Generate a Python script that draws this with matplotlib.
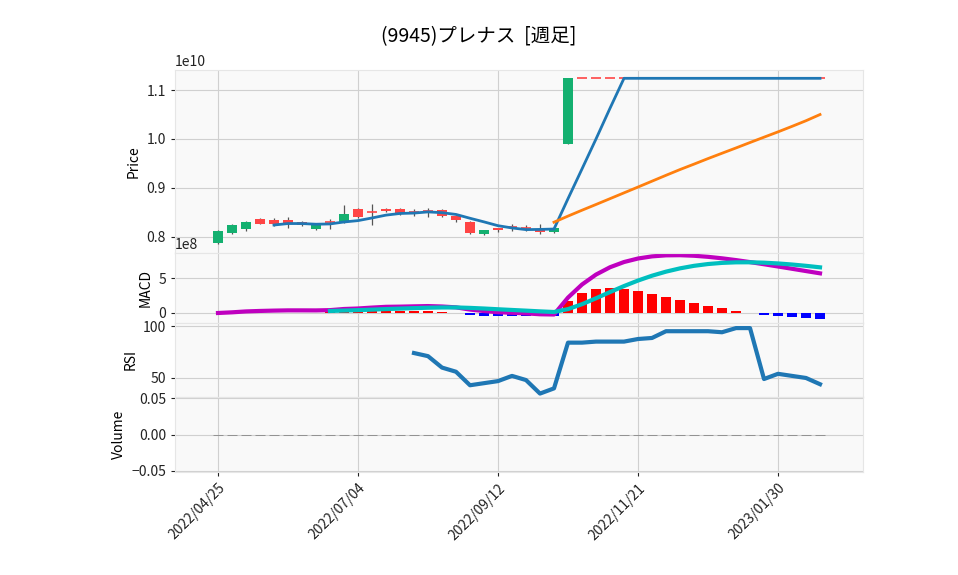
import numpy as np
import pandas as pd
import matplotlib
matplotlib.use("Agg")
import matplotlib.pyplot as plt

plt.rcParams["font.family"] = ["Noto Sans CJK JP", "DejaVu Sans"]

title = "(9945)プレナス  [週足]"
dates = pd.date_range("2022-04-25", periods=44, freq="7D")

# weekly OHLC, in units of 1e10 yen
opens = [0.788, 0.808, 0.816, 0.837, 0.835, 0.835, 0.830, 0.816, 0.830, 0.830, 0.857,
         0.851, 0.857, 0.857, 0.851, 0.853, 0.855, 0.843, 0.831, 0.806, 0.818, 0.820,
         0.818, 0.816, 0.810, 0.990] + [1.124] * 18
closes = [0.812, 0.824, 0.831, 0.827, 0.827, 0.827, 0.824, 0.824, 0.830, 0.847, 0.841,
          0.851, 0.853, 0.847, 0.851, 0.853, 0.843, 0.835, 0.808, 0.814, 0.814, 0.820,
          0.818, 0.810, 0.818, 1.124] + [1.124] * 18
highs = [0.813, 0.826, 0.833, 0.838, 0.839, 0.841, 0.832, 0.826, 0.837, 0.865, 0.858,
         0.867, 0.858, 0.858, 0.857, 0.859, 0.856, 0.844, 0.832, 0.815, 0.819, 0.826,
         0.824, 0.826, 0.820, 1.124] + [1.124] * 18
lows = [0.786, 0.806, 0.812, 0.826, 0.822, 0.818, 0.822, 0.814, 0.816, 0.828, 0.839,
        0.825, 0.851, 0.845, 0.843, 0.841, 0.841, 0.831, 0.806, 0.804, 0.810, 0.812,
        0.812, 0.805, 0.808, 0.990] + [1.124] * 18
rsi = [np.nan] * 14 + [74, 71, 60, 56, 43, 45, 47, 52, 48, 35, 40, 84, 84, 85, 85, 85,
                       87.5, 88.5, 95, 95, 95, 95, 94, 98, 98, 49, 54, 52, 50, 44]
volume = [0.0] * 44

scale = 1e10
o = np.array(opens) * scale
c = np.array(closes) * scale
h = np.array(highs) * scale
l = np.array(lows) * scale
close_s = pd.Series(c)
ma5 = close_s.rolling(5).mean()
ma25 = close_s.rolling(25).mean()
macd = close_s.ewm(span=12, adjust=False).mean() - close_s.ewm(span=26, adjust=False).mean()
signal = macd.ewm(span=9, adjust=False, min_periods=9).mean()
hist = macd - signal
x = np.arange(len(dates))

fig = plt.figure(figsize=(9.58, 5.75), dpi=100)
left, width = 175 / 958, 688 / 958
def panel(top, bottom):
    return fig.add_axes([left, 1 - bottom / 575, width, (bottom - top) / 575])
ax_p = panel(70, 253)
ax_m = panel(253, 323)
ax_r = panel(323, 397)
ax_v = panel(397, 472)
axes = [ax_p, ax_m, ax_r, ax_v]

up, down = "#14b070", "#ff4545"
for i in x:
    col = up if c[i] > o[i] else down
    ax_p.vlines(i, l[i], h[i], color="#555555", lw=0.9, zorder=2)
    if abs(c[i] - o[i]) < 1e6:
        ax_p.hlines(c[i], i - 0.35, i + 0.35, color=col, lw=1.2, zorder=3)
    else:
        ax_p.bar(i, c[i] - o[i], bottom=o[i], width=0.7, color=col, zorder=3)
ax_p.plot(x, ma5, color="#1f77b4", lw=2, zorder=4)
ax_p.plot(x, ma25, color="#ff7f0e", lw=2, zorder=4)
ax_p.set_ylim(0.767 * scale, 1.141 * scale)
ax_p.set_yticks(np.array([0.8, 0.9, 1.0, 1.1]) * scale)
ax_p.set_ylabel("Price")

ax_m.bar(x, hist.clip(lower=0), width=0.75, color="red")
ax_m.bar(x, hist.clip(upper=0), width=0.75, color="blue")
ax_m.plot(x, macd, color="#bf00bf", lw=3)
ax_m.plot(x, signal, color="#00bfbf", lw=3)
ax_m.set_ylim(-10 / 7 * 1e8, 60 / 7 * 1e8)
ax_m.set_yticks([0, 5e8])
ax_m.set_ylabel("MACD")

ax_r.plot(x, rsi, color="#1f77b4", lw=3)
ax_r.set_ylim(31.7, 102.9)
ax_r.set_yticks([50, 100])
ax_r.set_ylabel("RSI")

ax_v.bar(x, volume, width=0.75, color="#888888", edgecolor="#888888", lw=0.6)
ax_v.set_ylim(-0.052, 0.052)
ax_v.set_yticks([-0.05, 0.0, 0.05])
ax_v.set_ylabel("Volume")

ticks = x[::10]
for ax in axes:
    ax.set_facecolor("#f9f9f9")
    ax.set_xlim(-3.07, 46.07)
    ax.set_xticks(ticks)
    ax.grid(True, color="#d0d0d0", lw=0.8)
    ax.set_axisbelow(True)
    for s in ax.spines.values():
        s.set_color("#e6e6e6")
    ax.tick_params(colors="#222222", length=3)
    if ax is not ax_v:
        ax.tick_params(labelbottom=False)
ax_v.set_xticklabels([d.strftime("%Y/%m/%d") for d in dates[::10]], rotation=45, ha="right",
                     rotation_mode="anchor")
fig.suptitle(title, y=0.955, fontsize=14)
fig.savefig("out.png", dpi=100)
